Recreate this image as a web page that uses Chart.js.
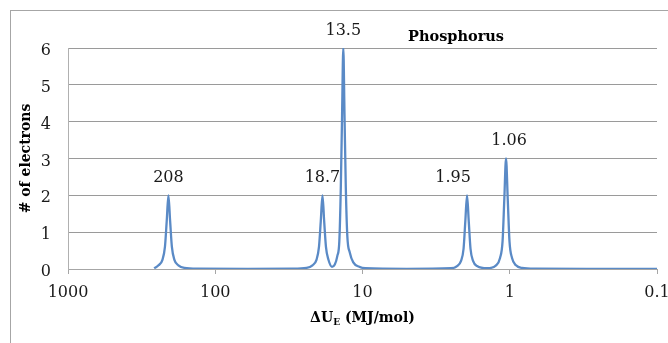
<!DOCTYPE html>
<html>
<head>
<meta charset="utf-8">
<script src="https://cdn.jsdelivr.net/npm/chart.js@4"></script>
<style>
  html, body { margin: 0; padding: 0; background: #fff; }
</style>
</head>
<body>
<canvas id="chart" width="668" height="343"></canvas>
<script>
// ionisation energies (MJ/mol) and electron counts
const peakEnergies = [208, 18.7, 13.5, 1.95, 1.06];
const peakCounts = [2, 2, 6, 2, 3];
const peakLabels = ['208', '18.7', '13.5', '1.95', '1.06'];

// traced spectrum curve (energy high -> low)
const curveEnergy = [
  260, 243, 228.4, 219.6, 213.6, 208, 202.5, 197, 189.4, 178, 162, 130,
  60, 30,
  24, 21.86, 20.54, 19.75, 19.2, 18.7, 18.21, 17.71, 17.03, 16.12,
  15.42, 14.83, 14.37, 14.04, 13.76, 13.5, 13.25, 12.98, 12.68, 12.2, 11.55, 10.51, 9.57,
  5,
  2.504, 2.28, 2.142, 2.059, 2.003, 1.95, 1.899, 1.847, 1.775, 1.668, 1.426,
  1.239, 1.164, 1.119, 1.0886, 1.06, 1.032, 1.004, 0.965, 0.907, 0.8255, 0.663,
  0.3, 0.1
];
const curveCount = [
  0.02, 0.1, 0.25, 0.6, 1.3, 2, 1.3, 0.6, 0.25, 0.1, 0.03, 0.01,
  0.005, 0.01,
  0.03, 0.1, 0.25, 0.6, 1.3, 2, 1.3, 0.6, 0.25, 0.06,
  0.12, 0.35, 0.75, 2.2, 4.2, 6, 4.2, 2.2, 0.9, 0.45, 0.18, 0.06, 0.02,
  0.005,
  0.02, 0.08, 0.22, 0.55, 1.3, 2, 1.3, 0.55, 0.22, 0.08, 0.02,
  0.1, 0.3, 0.75, 1.9, 3, 1.9, 0.75, 0.3, 0.1, 0.03, 0.01,
  0.005, 0.005
];

const xTickValues = [1000, 100, 10, 1, 0.1];
const yTickMax = 6;

const chartTitle = 'Phosphorus';
const yTitle = '# of electrons';

const serif = '"DejaVu Serif", serif';

// light frame around the whole chart object
const framePlugin = {
  id: 'frame',
  beforeDraw(chart) {
    const ctx = chart.ctx;
    ctx.save();
    ctx.strokeStyle = '#a6a6a6';
    ctx.lineWidth = 1;
    ctx.strokeRect(10.5, 10.5, 720, 420);
    ctx.restore();
  }
};

// value labels above each peak + chart title + x axis title with subscript
const textPlugin = {
  id: 'texts',
  afterDatasetsDraw(chart, args, opts) {
    const ctx = chart.ctx;
    const x = chart.scales.x;
    const y = chart.scales.y;
    ctx.save();
    ctx.fillStyle = '#1a1a1a';
    ctx.textAlign = 'center';
    ctx.textBaseline = 'alphabetic';
    ctx.font = '16px ' + serif;
    peakEnergies.forEach((e, i) => {
      const nudge = opts.nudge[peakLabels[i]] || 0;
      const px = x.getPixelForValue(e) + nudge;
      const py = y.getPixelForValue(peakCounts[i]) - 13.5;
      ctx.fillText(peakLabels[i], px, py);
    });

    // chart title, sits inside the plot area
    ctx.fillStyle = '#000';
    ctx.font = 'bold 14.5px ' + serif;
    ctx.fillText(chartTitle, 456, 41);

    // x axis title: ΔU_E (MJ/mol)
    const big = 'bold 14px ' + serif;
    const small = 'bold 9px ' + serif;
    ctx.font = big;
    const w1 = ctx.measureText('\u0394U').width;
    const w3 = ctx.measureText(' (MJ/mol)').width;
    ctx.font = small;
    const w2 = ctx.measureText('E').width;
    const total = w1 + w2 + w3;
    let cx = (chart.chartArea.left + chart.chartArea.right) / 2 - total / 2;
    const base = 322;
    ctx.textAlign = 'left';
    ctx.font = big;
    ctx.fillText('\u0394U', cx, base);
    cx += w1;
    ctx.font = small;
    ctx.fillText('E', cx, base + 3);
    cx += w2;
    ctx.font = big;
    ctx.fillText(' (MJ/mol)', cx, base);
    ctx.restore();
  }
};

new Chart(document.getElementById('chart'), {
  type: 'line',
  data: {
    datasets: [{
      data: curveEnergy.map((e, i) => ({ x: e, y: curveCount[i] })),
      borderColor: '#5a8ac6',
      borderWidth: 2.3,
      pointRadius: 0,
      fill: false,
      cubicInterpolationMode: 'monotone'
    }]
  },
  plugins: [framePlugin, textPlugin],
  options: {
    responsive: false,
    animation: false,
    devicePixelRatio: 1,
    layout: {
      padding: { left: 0, top: 48, right: 11, bottom: 0 }
    },
    scales: {
      x: {
        type: 'logarithmic',
        reverse: true,
        min: 0.1,
        max: 1000,
        afterBuildTicks(scale) {
          scale.ticks = xTickValues.map(v => ({ value: v }));
        },
        afterFit(scale) {
          scale.height = 74;
          scale.paddingLeft = 0;
          scale.paddingRight = 0;
        },
        grid: {
          drawOnChartArea: false,
          drawTicks: true,
          tickLength: 5,
          color: '#a6a6a6'
        },
        border: { display: true, color: '#a6a6a6' },
        ticks: {
          autoSkip: false,
          maxRotation: 0,
          padding: 9,
          color: '#1a1a1a',
          font: { family: serif, size: 16 },
          callback: (v) => String(v)
        }
      },
      y: {
        min: 0,
        max: yTickMax,
        afterFit(scale) {
          scale.width = 68;
          scale.paddingTop = 0;
          scale.paddingBottom = 0;
        },
        grid: {
          color: '#9a9a9a',
          drawTicks: false
        },
        border: { display: true, color: '#b0b0b0' },
        ticks: {
          stepSize: 1,
          padding: 17,
          labelOffset: 3,
          color: '#1a1a1a',
          font: { family: serif, size: 16 }
        },
        title: {
          display: true,
          text: yTitle,
          color: '#000',
          font: { family: serif, size: 14, weight: 'bold' },
          padding: { top: 18, bottom: 0 }
        }
      }
    },
    plugins: {
      legend: { display: false },
      tooltip: { enabled: false },
      texts: {
        nudge: { '1.95': -14, '1.06': 3 }
      }
    }
  }
});
</script>
</body>
</html>
